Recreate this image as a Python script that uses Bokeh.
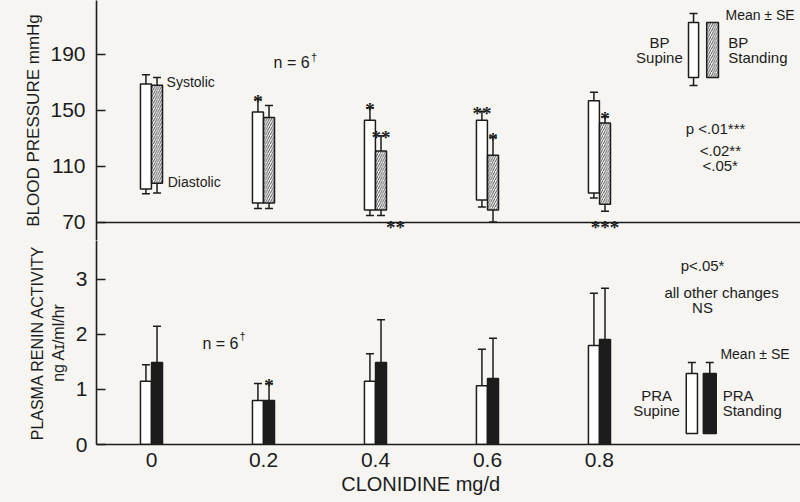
from bokeh.plotting import figure
from bokeh.models import ColumnDataSource, Whisker, TeeHead, Span, Label, FixedTicker, Range1d
from bokeh.layouts import column
from bokeh.transform import dodge
from bokeh.embed import file_html
from bokeh.resources import INLINE

# ---------------- data ----------------
doses = [0.0, 0.2, 0.4, 0.6, 0.8]
dose_labels = ["0", "0.2", "0.4", "0.6", "0.8"]

# Blood pressure, mmHg (mean, SE)
bp_sup_sys = [169, 149, 143, 143, 157]
bp_sup_sys_se = [6.5, 9, 9, 6.5, 6]
bp_sup_dia = [94, 84, 79, 86, 91]
bp_sup_dia_se = [3.5, 4, 4, 5, 3.5]
bp_std_sys = [168, 145, 121, 118, 141]
bp_std_sys_se = [5.5, 8.5, 11, 13, 4.5]
bp_std_dia = [98, 84, 79, 79, 83]
bp_std_dia_se = [7, 4, 4, 8.6, 5]

bp_sup_sys_sig = ["", "*", "*", "**", ""]
bp_std_sys_sig = ["", "", "**", "*", "*"]
bp_std_dia_sig = ["", "", "**", "", "***"]
bp_std_dia_sig_align = ["center", "center", "left", "center", "center"]

# Plasma renin activity, ng AI/ml/hr (mean, SE)
pra_sup = [1.15, 0.8, 1.15, 1.07, 1.8]
pra_sup_se = [0.3, 0.31, 0.5, 0.66, 0.95]
pra_std = [1.49, 0.8, 1.49, 1.2, 1.91]
pra_std_se = [0.66, 0.31, 0.78, 0.73, 0.93]
pra_std_sig = ["", "*", "", "", ""]

bp_ticks = [70, 110, 150, 190]
pra_ticks = [0, 1, 2, 3]

# ---------------- style ----------------
INK = "#1c1c1c"
PAPER = "#f6f5f1"
FONT = "Liberation Sans"
BAR_W = 0.0196
OFF = 0.0099
LW = 1.5

bp_src = ColumnDataSource(dict(
    dose=doses,
    sup_sys=bp_sup_sys, sup_dia=bp_sup_dia,
    sup_hi=[a + b for a, b in zip(bp_sup_sys, bp_sup_sys_se)],
    sup_lo=[a - b for a, b in zip(bp_sup_dia, bp_sup_dia_se)],
    std_sys=bp_std_sys, std_dia=bp_std_dia,
    std_hi=[a + b for a, b in zip(bp_std_sys, bp_std_sys_se)],
    std_lo=[a - b for a, b in zip(bp_std_dia, bp_std_dia_se)],
    sup_sig=bp_sup_sys_sig, std_sig=bp_std_sys_sig,
    dia_sig=bp_std_dia_sig, dia_align=bp_std_dia_sig_align,
    dia_xoff=[5 if a == "left" else 0 for a in bp_std_dia_sig_align],
))

pra_src = ColumnDataSource(dict(
    dose=doses,
    sup=pra_sup, std=pra_std,
    sup_hi=[a + b for a, b in zip(pra_sup, pra_sup_se)],
    std_hi=[a + b for a, b in zip(pra_std, pra_std_se)],
    std_sig=pra_std_sig,
))

x_range = Range1d(-0.0982, 1.159)


def style_common(p):
    p.background_fill_color = PAPER
    p.border_fill_color = PAPER
    p.outline_line_color = None
    p.xgrid.visible = False
    p.ygrid.visible = False


def style_axis(ax, standoff):
    ax.minor_tick_line_color = None
    ax.axis_line_width = 1.6
    ax.axis_line_color = INK
    ax.major_tick_line_color = INK
    ax.major_tick_line_width = 1.6
    ax.major_label_text_font = FONT
    ax.major_label_text_font_size = "21px"
    ax.major_label_text_color = INK
    ax.major_label_standoff = standoff
    ax.axis_label_text_font = FONT
    ax.axis_label_text_font_style = "normal"
    ax.axis_label_text_color = INK


def style_yaxis(ax, ticks, standoff):
    style_axis(ax, standoff)
    ax.ticker = FixedTicker(ticks=ticks)
    ax.major_tick_in = 9
    ax.major_tick_out = 0


def label(p, x, y, text, size="14px", align="left", baseline="middle"):
    p.add_layout(Label(x=x, y=y, text=text, text_font=FONT, text_font_size=size,
                       text_color=INK, text_align=align, text_baseline=baseline))


def whiskers(p, src, base, lower, upper, up=True):
    head = TeeHead(size=8, line_color=INK, line_width=LW)
    p.add_layout(Whisker(source=src, base=base, lower=lower, upper=upper,
                         dimension="height", line_color=INK, line_width=LW,
                         upper_head=head if up else None,
                         lower_head=None if up else head))


star_kw = dict(text_font=FONT, text_font_size="19px", text_font_style="bold",
               text_color=INK, text_baseline="alphabetic")
hatch_kw = dict(hatch_pattern="/", hatch_color="#333333", hatch_scale=4.5, hatch_weight=0.9)

# ======================= TOP: blood pressure =======================
top = figure(width=800, height=240, x_range=x_range, y_range=Range1d(57.14, 228.57),
             output_backend="svg", toolbar_location=None, x_axis_location=None,
             min_border_left=96, min_border_right=0, min_border_top=0, min_border_bottom=0)
style_common(top)
style_yaxis(top.yaxis[0], bp_ticks, 11)
top.yaxis[0].axis_label = "BLOOD PRESSURE mmHg"
top.yaxis[0].axis_label_text_font_size = "17px"
top.yaxis[0].axis_label_standoff = 4
top.add_layout(Span(location=70, dimension="width", line_color=INK, line_width=1.6))

x_sup = dodge("dose", -OFF, range=x_range)
x_std = dodge("dose", OFF, range=x_range)

top.vbar(x=x_sup, width=BAR_W, bottom="sup_dia", top="sup_sys", source=bp_src,
         fill_color="white", line_color=INK, line_width=LW)
top.vbar(x=x_std, width=BAR_W, bottom="std_dia", top="std_sys", source=bp_src,
         fill_color="white", line_color=INK, line_width=LW, **hatch_kw)

whiskers(top, bp_src, x_sup, "sup_sys", "sup_hi", up=True)
whiskers(top, bp_src, x_sup, "sup_lo", "sup_dia", up=False)
whiskers(top, bp_src, x_std, "std_sys", "std_hi", up=True)
whiskers(top, bp_src, x_std, "std_lo", "std_dia", up=False)

top.text(x=x_sup, y="sup_hi", text="sup_sig", source=bp_src, text_align="center",
         y_offset=2, **star_kw)
top.text(x=x_std, y="std_hi", text="std_sig", source=bp_src, text_align="center",
         y_offset=2, **star_kw)
top.text(x=x_std, y=70, text="dia_sig", source=bp_src, text_align="dia_align",
         x_offset="dia_xoff", y_offset=5, **star_kw)

label(top, 0.027, 170, "Systolic")
label(top, 0.029, 98.6, "Diastolic")
label(top, 0.218, 184.3, "n = 6", size="16px")
label(top, 0.285, 188.5, "†", size="11px")
label(top, 0.954, 137.1, "p <.01***", size="15px")
label(top, 0.979, 121.4, "<.02**", size="15px")
label(top, 0.984, 110.7, "<.05*", size="15px")

# legend key (top)
leg_top = ColumnDataSource(dict(x=[0.968], y0=[173.6], y1=[212.9], lo=[167.9], hi=[219.3]))
leg_top_h = ColumnDataSource(dict(x=[1.002], y0=[173.6], y1=[212.9]))
top.vbar(x="x", width=0.018, bottom="y0", top="y1", source=leg_top,
         fill_color="white", line_color=INK, line_width=LW)
top.vbar(x="x", width=0.021, bottom="y0", top="y1", source=leg_top_h,
         fill_color="white", line_color=INK, line_width=LW, **hatch_kw)
whiskers(top, leg_top, "x", "y1", "hi", up=True)
whiskers(top, leg_top, "x", "lo", "y0", up=False)
label(top, 1.025, 217.9, "Mean ± SE")
label(top, 0.907, 198.6, "BP", size="15px", align="center")
label(top, 0.907, 187.9, "Supine", size="15px", align="center")
label(top, 1.030, 198.6, "BP", size="15px")
label(top, 1.030, 187.9, "Standing", size="15px")

# ======================= BOTTOM: plasma renin activity =======================
bot = figure(width=800, height=262, x_range=x_range, y_range=Range1d(0, 3.709),
             output_backend="svg", toolbar_location=None,
             min_border_left=96, min_border_right=0, min_border_top=0, min_border_bottom=58)
style_common(bot)
style_yaxis(bot.yaxis[0], pra_ticks, 9)
ya = bot.yaxis[0]
ya.axis_label = "PLASMA RENIN ACTIVITY\nng A\u026a/ml/hr"
ya.axis_label_text_font_size = "16px"
ya.axis_label_standoff = 6

xa = bot.xaxis[0]
style_axis(xa, 8)
xa.ticker = FixedTicker(ticks=doses)
xa.major_label_overrides = dict(zip(doses, dose_labels))
xa.major_tick_in = 0
xa.major_tick_out = 0
xa.axis_label = "CLONIDINE mg/d" + "\u00a0" * 10
xa.axis_label_text_font_size = "20px"
xa.axis_label_standoff = 3

bot.vbar(x=x_sup, width=BAR_W, bottom=0, top="sup", source=pra_src,
         fill_color="white", line_color=INK, line_width=LW)
bot.vbar(x=x_std, width=BAR_W, bottom=0, top="std", source=pra_src,
         fill_color=INK, line_color=INK, line_width=LW)
whiskers(bot, pra_src, x_sup, "sup", "sup_hi", up=True)
whiskers(bot, pra_src, x_std, "std", "std_hi", up=True)
bot.text(x=x_std, y="std_hi", text="std_sig", source=pra_src, text_align="center",
         y_offset=2, **star_kw)

label(bot, 0.091, 1.84, "n = 6", size="16px")
label(bot, 0.157, 1.97, "†", size="11px")
label(bot, 0.945, 3.25, "p<.05*", size="15px")
label(bot, 1.018, 2.76, "all other changes", size="15px", align="center")
label(bot, 0.984, 2.49, "NS", size="15px", align="center")

leg_bot = ColumnDataSource(dict(x=[0.965], y0=[0.2], y1=[1.29], hi=[1.49]))
leg_bot_b = ColumnDataSource(dict(x=[0.997], y0=[0.2], y1=[1.29], hi=[1.49]))
bot.vbar(x="x", width=0.02, bottom="y0", top="y1", source=leg_bot,
         fill_color="white", line_color=INK, line_width=LW)
bot.vbar(x="x", width=0.023, bottom="y0", top="y1", source=leg_bot_b,
         fill_color=INK, line_color=INK, line_width=LW)
whiskers(bot, leg_bot, "x", "y1", "hi", up=True)
whiskers(bot, leg_bot_b, "x", "y1", "hi", up=True)
label(bot, 1.016, 1.64, "Mean ± SE")
label(bot, 0.902, 0.89, "PRA", size="15px", align="center")
label(bot, 0.902, 0.62, "Supine", size="15px", align="center")
label(bot, 1.020, 0.89, "PRA", size="15px")
label(bot, 1.020, 0.62, "Standing", size="15px")

layout = column(top, bot, spacing=0)
layout.background = PAPER
open("out.html", "w").write(file_html(layout, INLINE))
